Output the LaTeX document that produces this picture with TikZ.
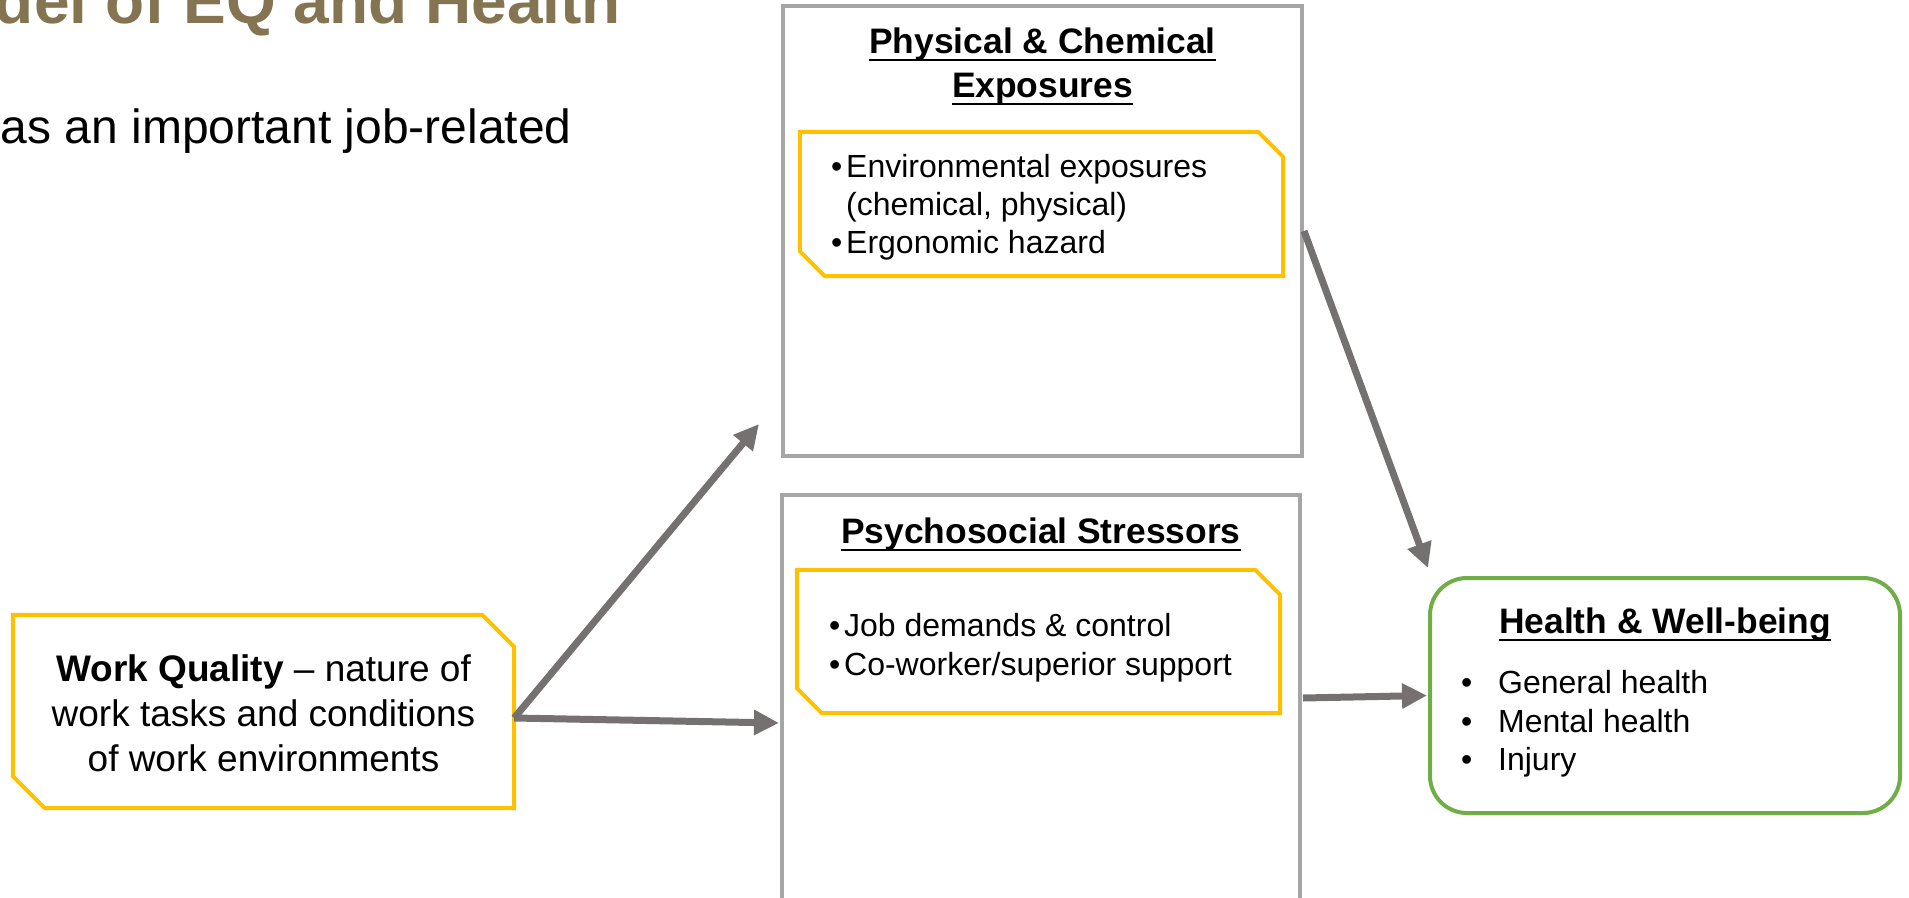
\documentclass[tikz,border=0pt]{standalone}
\usepackage{fontspec}
\setmainfont{Liberation Sans}
\usetikzlibrary{arrows.meta,calc}

\definecolor{titlegold}{RGB}{132,116,82}
\definecolor{boxgray}{RGB}{166,166,166}
\definecolor{accent}{RGB}{255,192,0}
\definecolor{arrowgray}{RGB}{118,113,113}
\definecolor{leafgreen}{RGB}{112,173,71}

% underline that sits just under the baseline (descenders cross it)
\newcommand\ulbox[1]{\setbox0\hbox{#1}\rlap{\rule[-0.23em]{\wd0}{0.07em}}\box0}
% bullet hung to the left of the text start
\newcommand\hangbullet[1]{\llap{\textbullet\hspace{#1}}}

\tikzset{
  frame/.style={draw=boxgray, line width=4pt, inner sep=0pt},
  holder/.style={inner sep=0pt},
  accentline/.style={draw=accent, line width=4pt, line join=miter},
  healthbox/.style={draw=leafgreen, line width=4pt, rounded corners=37pt, inner sep=0pt},
  headtxt/.style={anchor=base, inner sep=0pt, font=\fontsize{35.4}{42}\selectfont\bfseries},
  itemtxt/.style={anchor=base west, inner sep=0pt, font=\fontsize{32}{38}\selectfont},
  wqtxt/.style={anchor=base, inner sep=0pt, font=\fontsize{37}{44}\selectfont},
  conn/.style={draw=arrowgray, line width=7pt, -{Triangle[length=25pt,width=24pt]}},
}

% outline with the top-right and bottom-left corners cut off
\newcommand\cutcorners[2]{%
  \draw[accentline] (#1.north west) -- ($(#1.north east)+(-#2,0)$)
    -- ($(#1.north east)+(0,#2)$) -- (#1.south east)
    -- ($(#1.south west)+(#2,0)$) -- ($(#1.south west)+(0,-#2)$) -- cycle;}

\begin{document}
\begin{tikzpicture}[x=1pt,y=-1pt]
\useasboundingbox (0,0) rectangle (1909,897);
\clip (0,0) rectangle (1909,897);

% slide heading and lead line
\node[anchor=base east, inner sep=0pt, text=titlegold,
      font=\fontsize{64}{70}\selectfont\bfseries] (heading) at (621,23) {del of EQ and Health};
\node[anchor=base east, inner sep=0pt, font=\fontsize{48}{56}\selectfont] (lead) at (572,143) {as an important job-related};

% work quality
\node[holder, minimum width=501pt, minimum height=193pt] (wq) at (263.5,711.5) {};
\cutcorners{wq}{32}
\node[wqtxt] (wq1) at (263.5,681) {\textbf{Work Quality} -- nature of};
\node[wqtxt] (wq2) at (263.5,726) {work tasks and conditions};
\node[wqtxt] (wq3) at (263.5,771) {of work environments};

% physical & chemical exposures
\node[frame, minimum width=519pt, minimum height=450pt] (phys) at (1042.5,231) {};
\node[headtxt] (physh1) at (1042.5,53) {\ulbox{Physical \& Chemical}};
\node[headtxt] (physh2) at (1042.5,97) {\ulbox{Exposures}};
\node[holder, minimum width=483pt, minimum height=144pt] (physlist) at (1041.5,204) {};
\cutcorners{physlist}{25}
\node[itemtxt] (pi1) at (846,177) {\hangbullet{4pt}Environmental exposures};
\node[itemtxt] (pi2) at (846,215) {(chemical, physical)};
\node[itemtxt] (pi3) at (846,253) {\hangbullet{4pt}Ergonomic hazard};

% psychosocial stressors
\node[frame, minimum width=518pt, minimum height=430pt] (psych) at (1041,710) {};
\node[headtxt] (psychh) at (1041,543) {\ulbox{Psychosocial Stressors}};
\node[holder, minimum width=483pt, minimum height=143pt] (psychlist) at (1038.5,641.5) {};
\cutcorners{psychlist}{25}
\node[itemtxt] (si1) at (844,636) {\hangbullet{4pt}Job demands \& control};
\node[itemtxt] (si2) at (844,675) {\hangbullet{4pt}Co-worker/superior support};

% health & well-being
\node[healthbox, minimum width=470pt, minimum height=235pt] (health) at (1665,695.5) {};
\node[headtxt] (healthh) at (1665,633) {\ulbox{Health \& Well-being}};
\node[itemtxt] (hi1) at (1498,693) {\hangbullet{26pt}General health};
\node[itemtxt] (hi2) at (1498,732) {\hangbullet{26pt}Mental health};
\node[itemtxt] (hi3) at (1498,770) {\hangbullet{26pt}Injury};

% connectors
\coordinate (wqout) at ($(wq.east)+(0,6.5)$);
\coordinate (physin) at (759,424);
\coordinate (psychin) at ($(psych.west)+(-1,13)$);
\coordinate (psychout) at ($(psych.east)+(1,-12)$);
\coordinate (healthtop) at ($(health.north west)+(0,-8)$);
\draw[conn] (wqout) -- (physin);
\draw[conn] (wqout) -- (psychin);
\draw[conn] (phys.east) -- (healthtop);
\draw[conn] (psychout) -- ($(health.west)+(-1,0)$);
\end{tikzpicture}
\end{document}
